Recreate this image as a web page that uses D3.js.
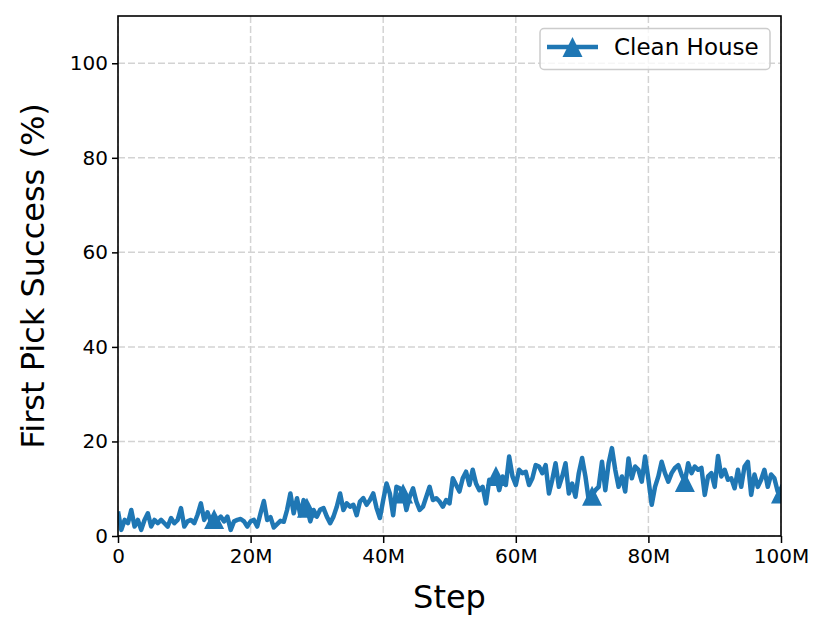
<!DOCTYPE html>
<html>
<head>
<meta charset="utf-8">
<script src="https://cdn.jsdelivr.net/npm/d3@7"></script>
<style>
  html, body { margin: 0; padding: 0; background: #fff; }
  svg { display: block; font-family: "DejaVu Sans", sans-serif; }
</style>
</head>
<body>
<script>
// ---- data ----
const seriesName = "Clean House";
const stepsM = d3.range(0, 100.25, 0.5); // training step in millions (logging interval)
const success = [
  5.2, 1.3, 3.4, 2.7, 5.5, 2.0, 3.4, 1.3, 3.4, 4.8,
  2.0, 3.4, 2.7, 3.4, 2.7, 2.0, 3.8, 2.7, 3.4, 5.9,
  2.0, 3.1, 3.4, 2.7, 4.5, 6.9, 3.4, 5.0, 3.0, 3.6,
  3.4, 4.1, 3.1, 4.1, 1.3, 3.1, 3.4, 3.6, 3.1, 2.0,
  3.1, 3.4, 2.0, 4.8, 7.4, 3.4, 4.0, 1.8, 2.5, 3.2,
  3.0, 5.5, 9.0, 4.8, 8.0, 4.4, 7.6, 6.0, 3.1, 5.5,
  4.1, 5.6, 5.9, 4.1, 2.7, 4.1, 6.2, 9.0, 5.5, 6.9,
  6.2, 6.6, 4.4, 7.3, 8.0, 6.6, 7.6, 9.0, 5.9, 3.8,
  7.6, 11.1, 9.0, 4.4, 10.4, 10.1, 9.0, 5.5, 8.3, 10.1,
  7.3, 5.5, 6.2, 8.3, 10.4, 7.6, 8.0, 7.3, 6.2, 7.6,
  6.9, 12.2, 10.8, 9.4, 12.2, 13.6, 10.8, 14.0, 11.1, 9.7,
  10.4, 6.9, 11.9, 11.1, 12.7, 9.7, 12.6, 10.8, 16.8, 12.6,
  10.8, 14.0, 13.3, 13.6, 10.8, 12.2, 15.0, 14.7, 13.3, 15.0,
  9.0, 11.9, 15.4, 10.4, 12.6, 15.4, 9.0, 11.1, 8.3, 13.3,
  16.5, 12.6, 7.6, 8.5, 9.7, 10.4, 15.7, 9.7, 15.4, 18.6,
  14.0, 10.4, 12.6, 9.4, 16.4, 12.2, 14.7, 14.0, 11.5, 16.8,
  12.0, 6.6, 10.4, 12.6, 15.7, 13.3, 11.5, 13.3, 14.4, 15.0,
  13.0, 11.4, 15.4, 13.3, 14.7, 14.0, 14.4, 8.7, 12.6, 13.3,
  10.4, 16.9, 12.6, 14.0, 11.9, 12.2, 10.1, 14.0, 10.4, 14.7,
  15.7, 8.7, 13.0, 10.4, 11.9, 14.0, 10.4, 13.0, 12.2, 9.4,
  9.0
];
const markerStepsM = [14.5, 28.5, 43, 57, 71.5, 85.5, 100];
const xTicks = [0, 20, 40, 60, 80, 100];
const xTickLabels = ["0", "20M", "40M", "60M", "80M", "100M"];
const yTicks = [0, 20, 40, 60, 80, 100];
const xLabel = "Step";
const yLabel = "First Pick Success (%)";

// ---- layout ----
const W = 831, H = 632;
const L = 118, R = 781, T = 16, B = 536;
const color = "#1f77b4";

const data = stepsM.map((s, i) => ({ s, v: success[i] })).filter(d => d.v !== undefined);

const x = d3.scaleLinear().domain([0, 100]).range([L, R]);
const y = d3.scaleLinear().domain([0, 110]).range([B, T]);

const svg = d3.select("body").append("svg").attr("width", W).attr("height", H);

svg.append("defs").append("clipPath").attr("id", "plotclip")
  .append("rect").attr("x", L).attr("y", T).attr("width", R - L).attr("height", B - T);

// grid
const grid = svg.append("g");
grid.selectAll("line.gx").data(xTicks).join("line")
  .attr("x1", d => x(d)).attr("x2", d => x(d)).attr("y1", T).attr("y2", B)
  .attr("stroke", "#d3d3d3").attr("stroke-width", 1.5).attr("stroke-dasharray", "7,3");
grid.selectAll("line.gy").data(yTicks).join("line")
  .attr("y1", d => y(d)).attr("y2", d => y(d)).attr("x1", L).attr("x2", R)
  .attr("stroke", "#d3d3d3").attr("stroke-width", 1.5).attr("stroke-dasharray", "7,3");

// line
const plot = svg.append("g").attr("clip-path", "url(#plotclip)");
const line = d3.line().x(d => x(d.s)).y(d => y(d.v));
plot.append("path").datum(data).attr("d", line)
  .attr("fill", "none").attr("stroke", color).attr("stroke-width", 4.5)
  .attr("stroke-linejoin", "round").attr("stroke-linecap", "butt");

const tri = r => `M0,${-r}L${-r},${r}L${r},${r}Z`;
const markerData = markerStepsM.map(ms => data.find(d => Math.abs(d.s - ms) < 1e-6)).filter(Boolean);
plot.selectAll("path.mk").data(markerData).join("path")
  .attr("transform", d => `translate(${x(d.s)},${y(d.v)})`)
  .attr("d", tri(10)).attr("fill", color);

// axes
const xAxis = d3.axisBottom(x).tickValues(xTicks).tickFormat((d, i) => xTickLabels[i]).tickSize(7).tickPadding(6);
const yAxis = d3.axisLeft(y).tickValues(yTicks).tickSize(6).tickPadding(4);
const gx = svg.append("g").attr("transform", `translate(0,${B})`).call(xAxis);
const gy = svg.append("g").attr("transform", `translate(${L},0)`).call(yAxis);
[gx, gy].forEach(g => {
  g.select(".domain").remove();
  g.selectAll(".tick line").attr("stroke", "#000").attr("stroke-width", 1.5);
  g.selectAll(".tick text").attr("fill", "#000").style("font-family", "DejaVu Sans").style("font-size", "20px");
});

// spines
svg.append("rect").attr("x", L).attr("y", T).attr("width", R - L).attr("height", B - T)
  .attr("fill", "none").attr("stroke", "#000").attr("stroke-width", 1.6);

// axis labels
svg.append("text").attr("x", (L + R) / 2).attr("y", 608).attr("text-anchor", "middle")
  .style("font-size", "32px").text(xLabel);
svg.append("text").attr("transform", `translate(44,${(T + B) / 2}) rotate(-90)`)
  .attr("text-anchor", "middle").style("font-size", "32px").text(yLabel);

// legend
const lg = svg.append("g");
lg.append("rect").attr("x", 540).attr("y", 28.5).attr("width", 230).attr("height", 41).attr("rx", 4)
  .attr("fill", "#fff").attr("fill-opacity", 0.8).attr("stroke", "#cccccc").attr("stroke-width", 1.5);
lg.append("line").attr("x1", 547).attr("x2", 598).attr("y1", 47).attr("y2", 47)
  .attr("stroke", color).attr("stroke-width", 4.5);
lg.append("path").attr("transform", "translate(572.5,47)").attr("d", tri(10)).attr("fill", color);
lg.append("text").attr("x", 614).attr("y", 47).attr("dy", "0.36em").style("font-size", "23px").text(seriesName);
</script>
</body>
</html>
